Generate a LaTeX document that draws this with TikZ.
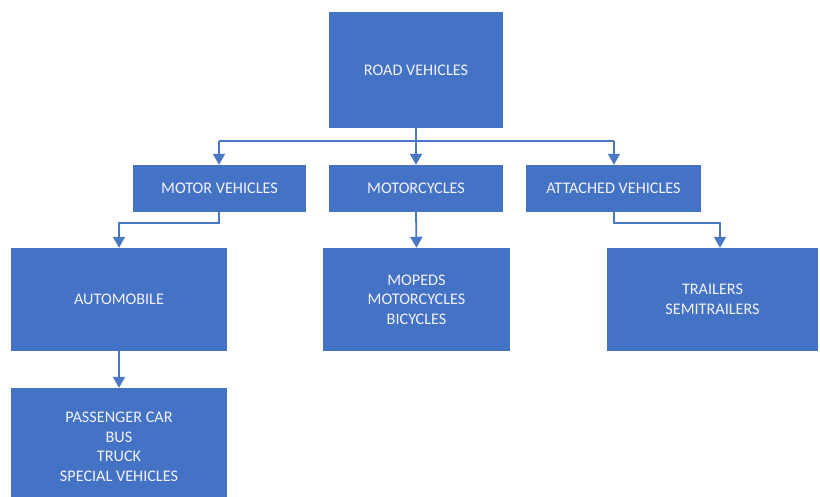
\documentclass[tikz,border=0pt]{standalone}
\usepackage{fontspec}
\setmainfont{Carlito}
\usetikzlibrary{arrows.meta}
\definecolor{boxblue}{HTML}{4472C4}
\definecolor{linkblue}{HTML}{4A78C2}
\tikzset{
  box/.style={fill=boxblue, draw=none, text=white!95!blue, align=center,
    inner sep=0pt, font=\fontsize{16.2}{19.5}\selectfont},
  link/.style={draw=linkblue, line width=1.8pt,
    -{Triangle[width=12pt,length=11pt]}},
  plain/.style={draw=linkblue, line width=1.8pt}
}
\begin{document}
\begin{tikzpicture}[x=1pt,y=-1pt]
\useasboundingbox (0,0) rectangle (820,497);
\node[box, minimum width=174pt, minimum height=116pt] (road) at (416,70) {ROAD VEHICLES};
\node[box, minimum width=173pt, minimum height=47pt] (motor) at (219.5,188.5) {MOTOR VEHICLES};
\node[box, minimum width=174pt, minimum height=47pt] (mcyc) at (416,188.5) {MOTORCYCLES};
\node[box, minimum width=175pt, minimum height=47pt] (att) at (613.5,188.5) {ATTACHED VEHICLES};
\node[box, minimum width=216pt, minimum height=103pt] (auto) at (119,299.5) {AUTOMOBILE};
\node[box, minimum width=187pt, minimum height=103pt] (moped) at (416.5,299.5) {MOPEDS\\MOTORCYCLES\\BICYCLES};
\node[box, minimum width=211pt, minimum height=103pt] (trail) at (712.5,299.5) {TRAILERS\\SEMITRAILERS};
\node[box, minimum width=216pt, minimum height=118pt] (pass) at (119,447) {PASSENGER CAR\\BUS\\TRUCK\\SPECIAL VEHICLES};
% bus coordinates
\coordinate (b0) at (416,141);
\coordinate (bl) at (219,141);
\coordinate (br) at (614,141);
\coordinate (ml) at (219,223);
\coordinate (mll) at (119,223);
\coordinate (ar) at (614,223);
\coordinate (arr) at (720,223);
\draw[plain] (road.south) -- (b0);
\draw[plain] (bl) -- (br);
\draw[link] (bl) -- (bl |- motor.north);
\draw[link] (b0) -- (mcyc.north);
\draw[link] (br) -- (br |- att.north);
\draw[link] (ml |- motor.south) -- (ml) -- (mll) -- (mll |- auto.north);
\draw[link] (mcyc.south) -- (moped.north);
\draw[link] (ar |- att.south) -- (ar) -- (arr) -- (arr |- trail.north);
\draw[link] (auto.south) -- (pass.north);
\end{tikzpicture}
\end{document}
